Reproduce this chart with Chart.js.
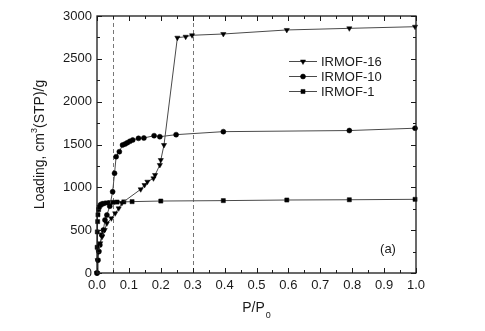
<!DOCTYPE html>
<html>
<head>
<meta charset="utf-8">
<style>
  html, body { margin: 0; padding: 0; background: #fff; }
  #wrap { width: 485px; height: 331px; position: relative; }
</style>
<script src="https://cdn.jsdelivr.net/npm/chart.js@4/dist/chart.umd.min.js"></script>
</head>
<body>
<div id="wrap"><canvas id="c" width="485" height="331"></canvas></div>
<script>
// ---- data ----
const seriesNames = ["IRMOF-16", "IRMOF-10", "IRMOF-1"];

const irmof16P = [0, 0.002, 0.005, 0.010, 0.016, 0.024, 0.031, 0.045, 0.057, 0.068, 0.078, 0.137, 0.149, 0.158, 0.177, 0.182, 0.197, 0.200, 0.210, 0.252, 0.278, 0.298, 0.396, 0.595, 0.791, 0.997];
const irmof16L = [0, 150, 250, 347, 424, 502, 580, 638, 697, 755, 817, 977, 1027, 1066, 1105, 1144, 1261, 1319, 1494, 2747, 2758, 2775, 2790, 2837, 2856, 2875];

const irmof10P = [0, 0.003, 0.006, 0.009, 0.015, 0.020, 0.025, 0.031, 0.040, 0.049, 0.055, 0.060, 0.070, 0.080, 0.088, 0.095, 0.103, 0.112, 0.130, 0.147, 0.179, 0.197, 0.248, 0.396, 0.791, 0.997];
const irmof10L = [0, 150, 250, 327, 444, 502, 619, 677, 780, 949, 1164, 1358, 1416, 1494, 1506, 1521, 1537, 1553, 1572, 1576, 1603, 1591, 1615, 1650, 1663, 1690];

const irmof1P = [0, 0.0005, 0.001, 0.002, 0.003, 0.005, 0.007, 0.010, 0.013, 0.017, 0.021, 0.030, 0.040, 0.050, 0.063, 0.084, 0.110, 0.200, 0.396, 0.595, 0.791, 0.997];
const irmof1L = [0, 300, 480, 600, 680, 740, 770, 790, 800, 807, 813, 818, 822, 825, 828, 830, 833, 840, 845, 852, 855, 860];

const dashedAtP = [0.05, 0.3];

const xTickValues = [0, 0.1, 0.2, 0.3, 0.4, 0.5, 0.6, 0.7, 0.8, 0.9, 1.0];
const yTickValues = [0, 500, 1000, 1500, 2000, 2500, 3000];

const xTitle = "P/P";
const xTitleSub = "0";
const yTitleA = "Loading, cm";
const yTitleSup = "3";
const yTitleB = "(STP)/g";
const panelLabel = "(a)";

// ---- helpers ----
function toPoints(xs, ys) { return xs.map((x, i) => ({ x: x, y: ys[i] })); }

const FONT = '"Liberation Sans", Arial, Helvetica, sans-serif';
const INK = '#1a1a1a';
const LINE = '#4a4a4a';

const markerStyles = [
  { pointStyle: 'triangle', rotation: 180, radius: 3.0 },
  { pointStyle: 'circle', rotation: 0, radius: 2.5 },
  { pointStyle: 'rect', rotation: 0, radius: 2.9 }
];

const datasets = [
  toPoints(irmof16P, irmof16L),
  toPoints(irmof10P, irmof10L),
  toPoints(irmof1P, irmof1L)
].map((pts, i) => ({
  label: seriesNames[i],
  data: pts,
  showLine: true,
  borderColor: LINE,
  borderWidth: 1,
  backgroundColor: '#000',
  pointBackgroundColor: '#000',
  pointBorderColor: '#000',
  pointBorderWidth: 0.5,
  pointStyle: markerStyles[i].pointStyle,
  rotation: markerStyles[i].rotation,
  pointRadius: markerStyles[i].radius,
  tension: 0,
  clip: false
}));

const framePlugin = {
  id: 'frame',
  beforeDatasetsDraw(chart) {
    const { ctx, chartArea: a, scales } = chart;
    ctx.save();
    ctx.strokeStyle = '#777';
    ctx.lineWidth = 1;
    ctx.setLineDash([4, 3]);
    dashedAtP.forEach(p => {
      const x = Math.round(scales.x.getPixelForValue(p)) + 0.5;
      ctx.beginPath();
      ctx.moveTo(x, a.top);
      ctx.lineTo(x, a.bottom);
      ctx.stroke();
    });
    ctx.restore();
  },
  afterDatasetsDraw(chart) {
    const { ctx, chartArea: a, scales } = chart;
    const xs = scales.x, ys = scales.y;
    ctx.save();
    ctx.strokeStyle = INK;
    ctx.lineWidth = 1.3;
    ctx.strokeRect(a.left, a.top, a.right - a.left, a.bottom - a.top);
    ctx.lineWidth = 1;
    // x ticks (major 0.1, minor 0.05) on bottom and top
    for (let k = 0; k <= 20; k++) {
      const v = k * 0.05;
      const len = (k % 2 === 0) ? 5 : 3;
      const x = Math.round(xs.getPixelForValue(v)) + 0.5;
      ctx.beginPath();
      ctx.moveTo(x, a.bottom); ctx.lineTo(x, a.bottom - len);
      ctx.moveTo(x, a.top); ctx.lineTo(x, a.top + len);
      ctx.stroke();
    }
    // y ticks (major 500, minor 250) on left and right
    for (let k = 0; k <= 12; k++) {
      const v = k * 250;
      const len = (k % 2 === 0) ? 5 : 3;
      const y = Math.round(ys.getPixelForValue(v)) + 0.5;
      ctx.beginPath();
      ctx.moveTo(a.left, y); ctx.lineTo(a.left + len, y);
      ctx.moveTo(a.right, y); ctx.lineTo(a.right - len, y);
      ctx.stroke();
    }

    // legend
    const legX0 = 289, legX1 = 317, legTextX = 321;
    const legY = [61, 76, 91];
    ctx.font = '13px ' + FONT;
    ctx.textBaseline = 'middle';
    ctx.textAlign = 'left';
    chart.data.datasets.forEach((ds, i) => {
      const y = legY[i];
      ctx.strokeStyle = LINE;
      ctx.lineWidth = 1;
      ctx.beginPath();
      ctx.moveTo(legX0, y + 0.5); ctx.lineTo(legX1, y + 0.5);
      ctx.stroke();
      ctx.fillStyle = '#000';
      ctx.strokeStyle = '#000';
      ctx.lineWidth = 0.5;
      Chart.helpers.drawPoint(ctx, {
        pointStyle: ds.pointStyle, rotation: ds.rotation,
        radius: ds.pointRadius, borderWidth: 0.5
      }, (legX0 + legX1) / 2, y + 0.5);
      ctx.fillStyle = INK;
      ctx.fillText(ds.label, legTextX, y + 1);
    });

    // panel label
    ctx.fillStyle = INK;
    ctx.textAlign = 'center';
    ctx.fillText(panelLabel, 388, 249);

    // x title with subscript
    ctx.font = '14px ' + FONT;
    const wMain = ctx.measureText(xTitle).width;
    ctx.font = '9px ' + FONT;
    const wSub = ctx.measureText(xTitleSub).width;
    const cx = (a.left + a.right) / 2;
    let sx = cx - (wMain + wSub + 1) / 2;
    ctx.textAlign = 'left';
    ctx.font = '14px ' + FONT;
    ctx.fillText(xTitle, sx, 308);
    ctx.font = '9px ' + FONT;
    ctx.fillText(xTitleSub, sx + wMain + 1, 316);

    // y title rotated with superscript
    ctx.save();
    ctx.translate(40, (a.top + a.bottom) / 2);
    ctx.rotate(-Math.PI / 2);
    ctx.font = '14px ' + FONT;
    const wa = ctx.measureText(yTitleA).width;
    const wb = ctx.measureText(yTitleB).width;
    ctx.font = '9px ' + FONT;
    const ws = ctx.measureText(yTitleSup).width;
    let tx = -(wa + ws + wb) / 2;
    ctx.textAlign = 'left';
    ctx.textBaseline = 'middle';
    ctx.font = '14px ' + FONT;
    ctx.fillText(yTitleA, tx, 0);
    ctx.font = '9px ' + FONT;
    ctx.fillText(yTitleSup, tx + wa, -5);
    ctx.font = '14px ' + FONT;
    ctx.fillText(yTitleB, tx + wa + ws, 0);
    ctx.restore();

    ctx.restore();
  }
};

new Chart(document.getElementById('c'), {
  type: 'scatter',
  data: { datasets: datasets },
  options: {
    responsive: false,
    animation: false,
    devicePixelRatio: 1,
    layout: { padding: { top: 16, right: 69, left: 0, bottom: 0 } },
    plugins: { legend: { display: false }, tooltip: { enabled: false } },
    scales: {
      x: {
        type: 'linear', min: 0, max: 1,
        grid: { display: false, drawTicks: false },
        border: { display: false },
        afterBuildTicks(scale) { scale.ticks = xTickValues.map(v => ({ value: v })); },
        afterFit(scale) { scale.height = 58; },
        ticks: {
          padding: 5,
          color: INK,
          font: { family: FONT, size: 13 },
          callback: v => Number(v).toFixed(1),
          maxRotation: 0, autoSkip: false
        }
      },
      y: {
        type: 'linear', min: 0, max: 3000,
        grid: { display: false, drawTicks: false },
        border: { display: false },
        afterBuildTicks(scale) { scale.ticks = yTickValues.map(v => ({ value: v })); },
        afterFit(scale) { scale.width = 97; },
        ticks: {
          padding: 5,
          color: INK,
          font: { family: FONT, size: 13 },
          callback: v => String(Math.round(v)),
          autoSkip: false
        }
      }
    }
  },
  plugins: [framePlugin]
});
</script>
</body>
</html>
